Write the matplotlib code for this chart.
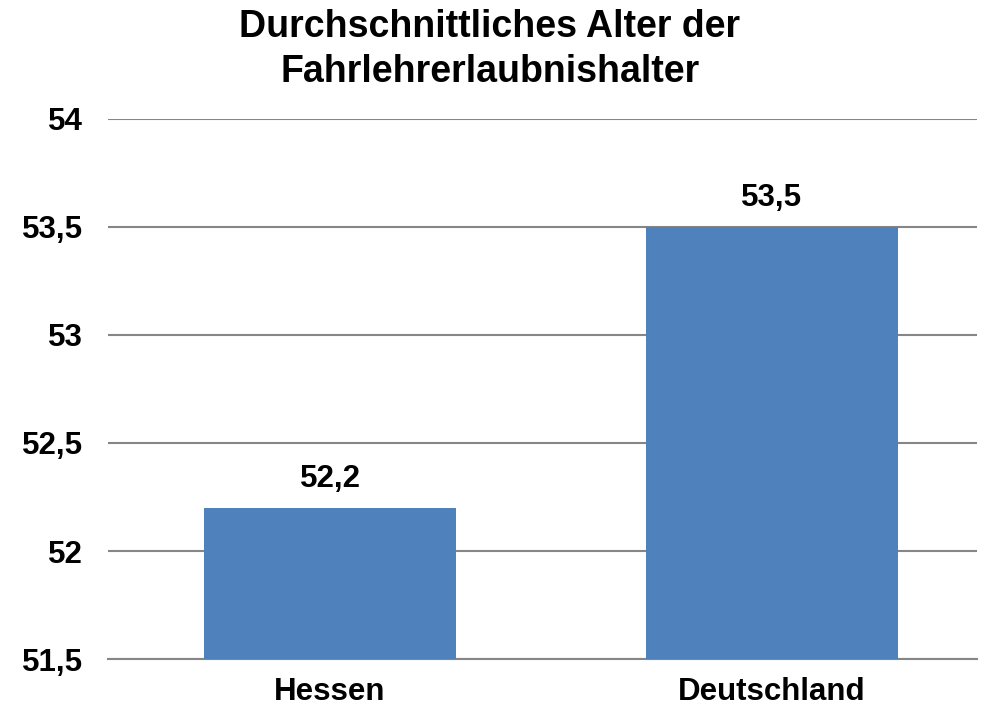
import matplotlib.pyplot as plt

categories = ["Hessen", "Deutschland"]
values = [52.2, 53.5]
value_labels = ["52,2", "53,5"]
y_ticks = [51.5, 52, 52.5, 53, 53.5, 54]
y_tick_labels = ["51,5", "52", "52,5", "53", "53,5", "54"]

plt.rcParams["font.family"] = ["Liberation Sans", "DejaVu Sans"]
plt.rcParams["font.weight"] = "bold"

fig = plt.figure(figsize=(9.92, 7.12), dpi=100)
ax = fig.add_axes([0.109, 0.0744, 0.876, 0.7586])

x = range(len(categories))
ax.bar(x, [v - 51.5 for v in values], bottom=51.5, width=0.57, color="#4F81BD", zorder=3)

for xi, v, lab in zip(x, values, value_labels):
    ax.text(xi, v + 0.065, lab, ha="center", va="bottom", fontsize=22.5, fontweight="bold")

ax.set_xlim(-0.502, 1.464)
ax.set_ylim(51.5, 54)
ax.set_yticks(y_ticks)
ax.set_yticklabels(y_tick_labels, fontsize=22.5, fontweight="bold")
ax.set_xticks(list(x))
ax.set_xticklabels(categories, fontsize=22.5, fontweight="bold")
ax.tick_params(axis="both", length=0)
ax.tick_params(axis="y", pad=18)
ax.tick_params(axis="x", pad=13)
ax.grid(axis="y", color="#868686", linewidth=1.5, zorder=0)
for s in ["top", "right", "left"]:
    ax.spines[s].set_visible(False)
ax.spines["bottom"].set_color("#868686")
ax.spines["bottom"].set_linewidth(1.5)

fig.suptitle("Durchschnittliches Alter der\nFahrlehrerlaubnishalter", fontsize=27,
             fontweight="bold", x=0.494, y=0.988, va="top", linespacing=1.33)

fig.savefig("out.png", dpi=100)
